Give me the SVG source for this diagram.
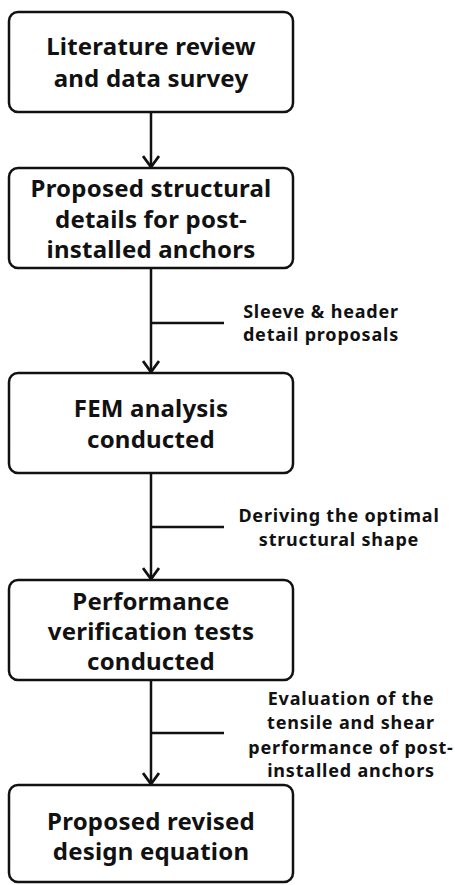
<svg xmlns="http://www.w3.org/2000/svg" width="455" height="885" viewBox="0 0 455 885">
<style>
.box{fill:#fff;stroke:#111;stroke-width:2.5}
.t{font-family:"Noto Sans","Open Sans",sans-serif;font-weight:bold;font-size:24px;letter-spacing:0.2px;fill:#111;text-anchor:middle}
.l{font-family:"Noto Sans","Open Sans",sans-serif;font-weight:bold;font-size:18px;letter-spacing:0.8px;fill:#111;text-anchor:middle}
.c{stroke:#111;stroke-width:2.5;fill:none}
</style>
<defs>
<marker id="ah" markerWidth="14" markerHeight="18" refX="12" refY="9" orient="auto" markerUnits="userSpaceOnUse">
<path d="M1,1 L12,9 L1,17" fill="none" stroke="#111" stroke-width="2.8"/>
</marker>
</defs>
<rect width="455" height="885" fill="#fff"/>
<g id="connectors">
<line class="c" x1="151" y1="112" x2="151" y2="167" marker-end="url(#ah)"/>
<line class="c" x1="151" y1="268" x2="151" y2="372" marker-end="url(#ah)"/>
<line class="c" x1="151" y1="323" x2="224" y2="323"/>
<line class="c" x1="151" y1="473" x2="151" y2="579" marker-end="url(#ah)"/>
<line class="c" x1="151" y1="527" x2="224" y2="527"/>
<line class="c" x1="151" y1="680" x2="151" y2="784" marker-end="url(#ah)"/>
<line class="c" x1="151" y1="733" x2="224" y2="733"/>
<text class="l" x="321" y="318">Sleeve &amp; header</text>
<text class="l" x="321" y="341">detail proposals</text>
<text class="l" x="339" y="522">Deriving the optimal</text>
<text class="l" x="339" y="546">structural shape</text>
<text class="l" x="351" y="705">Evaluation of the</text>
<text class="l" x="351" y="729">tensile and shear</text>
<text class="l" x="351" y="754">performance of post-</text>
<text class="l" x="351" y="777">installed anchors</text>
</g>
<g id="n1"><rect class="box" x="9" y="12" width="284" height="100" rx="9"/>
<text class="t" x="151" y="55">Literature review</text>
<text class="t" x="151" y="87">and data survey</text></g>
<g id="n2"><rect class="box" x="9" y="168" width="284" height="100" rx="9"/>
<text class="t" x="151" y="197">Proposed structural</text>
<text class="t" x="151" y="228">details for post-</text>
<text class="t" x="151" y="258">installed anchors</text></g>
<g id="n3"><rect class="box" x="9" y="373" width="284" height="100" rx="9"/>
<text class="t" x="151" y="417">FEM analysis</text>
<text class="t" x="151" y="448">conducted</text></g>
<g id="n4"><rect class="box" x="9" y="580" width="284" height="100" rx="9"/>
<text class="t" x="151" y="610">Performance</text>
<text class="t" x="151" y="640">verification tests</text>
<text class="t" x="151" y="670">conducted</text></g>
<g id="n5"><rect class="box" x="9" y="785" width="284" height="97" rx="9"/>
<text class="t" x="151" y="830">Proposed revised</text>
<text class="t" x="151" y="860">design equation</text></g>
</svg>
